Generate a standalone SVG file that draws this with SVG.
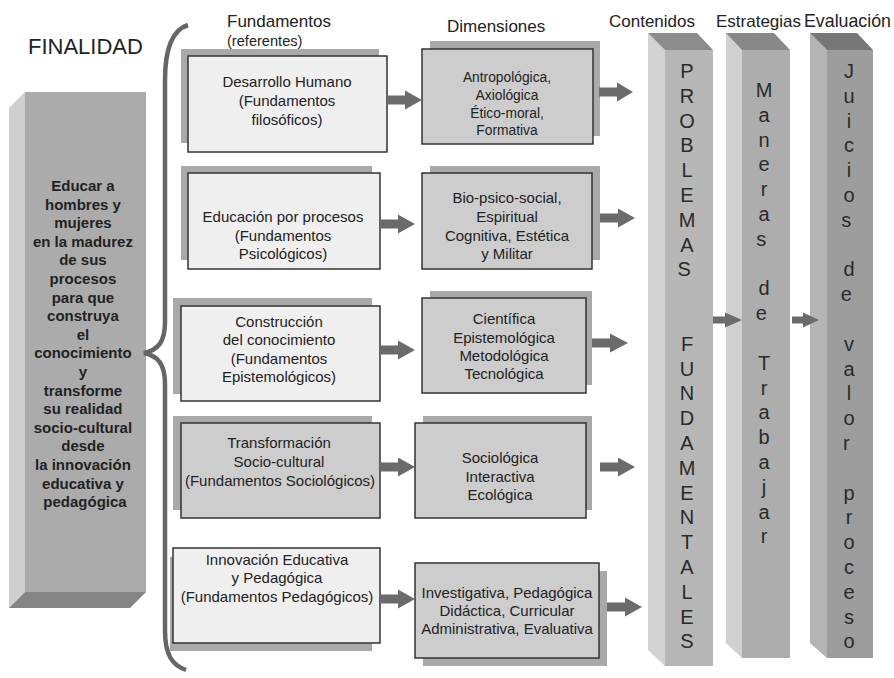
<svg xmlns="http://www.w3.org/2000/svg" width="894" height="678" viewBox="0 0 894 678">
<defs>
<style>
text{font-family:"Liberation Sans",Arial,sans-serif;fill:#222;}
.hd{font-size:17px;}
.bx{font-size:15px;text-anchor:middle;}
.dm{font-size:15px;text-anchor:middle;}
.fin{font-size:15px;font-weight:bold;text-anchor:middle;}
.col{font-size:20px;text-anchor:middle;fill:#2a2a2a;}
.sh{fill:#a9a9a9;}
.lt{fill:#efefef;stroke:#333;stroke-width:1.5;}
.gr{fill:#cdcdcd;stroke:#333;stroke-width:1.5;}
.ar{fill:#6b6b6b;}
</style>
</defs>
<rect width="894" height="678" fill="#fff"/>

<text x="28" y="54" style="font-size:22px">FINALIDAD</text>
<text x="227" y="27" class="hd">Fundamentos</text>
<text x="227" y="46" style="font-size:14.6px">(referentes)</text>
<text x="447" y="32" class="hd">Dimensiones</text>
<text x="609" y="27" class="hd">Contenidos</text>
<text x="716" y="27" class="hd">Estrategias</text>
<text x="804" y="27" style="font-size:17.8px">Evaluación</text>

<g id="finalidad">
<polygon points="9,108 25,92 25,592 9,608" fill="#cfcfcf"/>
<polygon points="25,592 146,592 130,608 9,608" fill="#858585"/>
<rect x="25" y="92" width="121" height="500" fill="#ababab"/>
<text class="fin">
<tspan x="85" y="191">Educar a</tspan>
<tspan x="85" dy="18.6">hombres y</tspan>
<tspan x="85" dy="18.6">mujeres</tspan>
<tspan x="85" dy="18.6">en la madurez</tspan>
<tspan x="85" dy="18.6">de sus</tspan>
<tspan x="85" dy="18.6">procesos</tspan>
<tspan x="85" dy="18.6">para que</tspan>
<tspan x="85" dy="18.6">construya</tspan>
<tspan x="85" dy="18.6">el</tspan>
<tspan x="85" dy="18.6">conocimiento</tspan>
<tspan x="85" dy="18.6">y</tspan>
<tspan x="85" dy="18.6">transforme</tspan>
<tspan x="85" dy="18.6">su realidad</tspan>
<tspan x="85" dy="18.6">socio-cultural</tspan>
<tspan x="85" dy="18.6">desde</tspan>
<tspan x="85" dy="18.6">la innovación</tspan>
<tspan x="85" dy="18.6">educativa y</tspan>
<tspan x="85" dy="18.6">pedagógica</tspan>
</text>
</g>

<g id="brace">
<path d="M188,25 C172,30 165,50 165,80 L165,322 C165,342 158,350 144,353 C158,356 165,364 165,384 L165,630 C165,655 172,665 186,670" fill="none" stroke="#666" stroke-width="4.5"/>
</g>

<g id="f1">
<rect x="181" y="49" width="198" height="94" class="sh"/>
<rect x="188" y="56" width="199" height="96" class="lt"/>
<text class="bx"><tspan x="287" y="87">Desarrollo Humano</tspan><tspan x="287" y="106">(Fundamentos</tspan><tspan x="287" y="125">filosóficos)</tspan></text>
</g>
<g id="f2">
<rect x="181" y="166" width="191" height="94" class="sh"/>
<rect x="188" y="173" width="192" height="96" class="lt"/>
<text class="bx"><tspan x="283" y="222">Educación por procesos</tspan><tspan x="283" y="241">(Fundamentos</tspan><tspan x="283" y="259">Psicológicos)</tspan></text>
</g>
<g id="f3">
<rect x="173" y="298" width="199" height="96" class="sh"/>
<rect x="181" y="306" width="199" height="95" class="lt"/>
<text class="bx"><tspan x="279" y="327">Construcción</tspan><tspan x="279" y="345">del conocimiento</tspan><tspan x="279" y="364">(Fundamentos</tspan><tspan x="279" y="382">Epistemológicos)</tspan></text>
</g>
<g id="f4">
<rect x="173" y="416" width="199" height="94" class="sh"/>
<rect x="181" y="423" width="199" height="95" class="gr"/>
<text class="bx"><tspan x="279" y="448">Transformación</tspan><tspan x="279" y="467">Socio-cultural</tspan><tspan x="280" y="486">(Fundamentos Sociológicos)</tspan></text>
</g>
<g id="f5">
<rect x="170" y="557" width="202" height="94" class="sh"/>
<rect x="173" y="548" width="207" height="95" class="lt"/>
<text class="bx"><tspan x="277" y="565">Innovación Educativa</tspan><tspan x="277" y="583">y Pedagógica</tspan><tspan x="277" y="602">(Fundamentos Pedagógicos)</tspan></text>
</g>

<g id="d1">
<rect x="430" y="41" width="170" height="95" class="sh"/>
<rect x="422" y="49" width="171" height="95" class="gr"/>
<text class="dm" style="font-size:13.8px"><tspan x="507" y="82">Antropológica,</tspan><tspan x="507" y="100">Axiológica</tspan><tspan x="507" y="117.5">Ético-moral,</tspan><tspan x="507" y="135">Formativa</tspan></text>
</g>
<g id="d2">
<rect x="430" y="166" width="170" height="94" class="sh"/>
<rect x="422" y="173" width="170" height="96" class="gr"/>
<text class="dm"><tspan x="507" y="203">Bio-psico-social,</tspan><tspan x="507" y="222">Espiritual</tspan><tspan x="507" y="241">Cognitiva, Estética</tspan><tspan x="507" y="259">y Militar</tspan></text>
</g>
<g id="d3">
<rect x="430" y="291" width="162" height="94" class="sh"/>
<rect x="422" y="298" width="164" height="95" class="gr"/>
<text class="dm"><tspan x="504" y="324">Científica</tspan><tspan x="504" y="343">Epistemológica</tspan><tspan x="504" y="361">Metodológica</tspan><tspan x="504" y="379">Tecnológica</tspan></text>
</g>
<g id="d4">
<rect x="423" y="416" width="169" height="94" class="sh"/>
<rect x="415" y="423" width="171" height="95" class="gr"/>
<text class="dm"><tspan x="500" y="463">Sociológica</tspan><tspan x="500" y="482">Interactiva</tspan><tspan x="500" y="500">Ecológica</tspan></text>
</g>
<g id="d5">
<rect x="423" y="571" width="184" height="95" class="sh"/>
<rect x="415" y="563" width="184" height="95" class="gr"/>
<text class="dm"><tspan x="507" y="598">Investigativa, Pedagógica</tspan><tspan x="507" y="616">Didáctica, Curricular</tspan><tspan x="507" y="634">Administrativa, Evaluativa</tspan></text>
</g>

<g id="contenidos">
<polygon points="648,33 665,50 665,666 648,650" fill="#d3d3d3"/>
<polygon points="648,33 697,33 713,50 665,50" fill="#8c8c8c"/>
<rect x="665" y="50" width="48" height="616" fill="#b7b7b7"/>
<text class="col">
<tspan x="687" y="78">P</tspan><tspan x="687" dy="24.8">R</tspan><tspan x="687" dy="24.8">O</tspan><tspan x="687" dy="24.8">B</tspan><tspan x="687" dy="24.8">L</tspan><tspan x="687" dy="24.8">E</tspan><tspan x="687" dy="24.8">M</tspan><tspan x="687" dy="24.8">A</tspan><tspan x="687" dy="24.8">S</tspan>
<tspan x="687" dy="74.4">F</tspan><tspan x="687" dy="24.8">U</tspan><tspan x="687" dy="24.8">N</tspan><tspan x="687" dy="24.8">D</tspan><tspan x="687" dy="24.8">A</tspan><tspan x="687" dy="24.8">M</tspan><tspan x="687" dy="24.8">E</tspan><tspan x="687" dy="24.8">N</tspan><tspan x="687" dy="24.8">T</tspan><tspan x="687" dy="24.8">A</tspan><tspan x="687" dy="24.8">L</tspan><tspan x="687" dy="24.8">E</tspan><tspan x="687" dy="24.8">S</tspan>
</text>
</g>
<g id="estrategias">
<polygon points="726,33 742,50 742,658 726,643" fill="#d0d0d0"/>
<polygon points="726,33 774,33 790,50 742,50" fill="#888"/>
<rect x="742" y="50" width="48" height="608" fill="#adadad"/>
<text class="col">
<tspan x="764" y="97">M</tspan><tspan x="764" dy="24.8">a</tspan><tspan x="764" dy="24.8">n</tspan><tspan x="764" dy="24.8">e</tspan><tspan x="764" dy="24.8">r</tspan><tspan x="764" dy="24.8">a</tspan><tspan x="764" dy="24.8">s</tspan>
<tspan x="764" dy="49.6">d</tspan><tspan x="764" dy="24.8">e</tspan>
<tspan x="764" dy="49.6">T</tspan><tspan x="764" dy="24.8">r</tspan><tspan x="764" dy="24.8">a</tspan><tspan x="764" dy="24.8">b</tspan><tspan x="764" dy="24.8">a</tspan><tspan x="764" dy="24.8">j</tspan><tspan x="764" dy="24.8">a</tspan><tspan x="764" dy="24.8">r</tspan>
</text>
</g>
<g id="evaluacion">
<polygon points="810,33 827,50 827,658 810,643" fill="#b4b4b4"/>
<polygon points="810,33 857,33 873,50 827,50" fill="#777"/>
<rect x="827" y="50" width="46" height="608" fill="#9d9d9d"/>
<text class="col">
<tspan x="849" y="78">J</tspan><tspan x="849" dy="24.8">u</tspan><tspan x="849" dy="24.8">i</tspan><tspan x="849" dy="24.8">c</tspan><tspan x="849" dy="24.8">i</tspan><tspan x="849" dy="24.8">o</tspan><tspan x="849" dy="24.8">s</tspan>
<tspan x="849" dy="49.6">d</tspan><tspan x="849" dy="24.8">e</tspan>
<tspan x="849" dy="49.6">v</tspan><tspan x="849" dy="24.8">a</tspan><tspan x="849" dy="24.8">l</tspan><tspan x="849" dy="24.8">o</tspan><tspan x="849" dy="24.8">r</tspan>
<tspan x="849" dy="49.6">p</tspan><tspan x="849" dy="24.8">r</tspan><tspan x="849" dy="24.8">o</tspan><tspan x="849" dy="24.8">c</tspan><tspan x="849" dy="24.8">e</tspan><tspan x="849" dy="24.8">s</tspan><tspan x="849" dy="24.8">o</tspan>
</text>
</g>

<g id="connectors" class="ar">
<path d="M387,95.5H405V90.5L422,100L405,109.5V104.5H387Z"/>
<path d="M599,87.5H617V82.5L633,92L617,101.5V96.5H599Z"/>
<path d="M380,219.5H398V214.5L415,224L398,233.5V228.5H380Z"/>
<path d="M600,213.5H618V208.5L635,218L618,227.5V222.5H600Z"/>
<path d="M380,345.5H398V340.5L415,350L398,359.5V354.5H380Z"/>
<path d="M592,338.5H610V333.5L628,343L610,352.5V347.5H592Z"/>
<path d="M380,462.5H398V457.5L415,467L398,476.5V471.5H380Z"/>
<path d="M600,462.5H618V457.5L635,467L618,476.5V471.5H600Z"/>
<path d="M380,594.5H398V589.5L415,599L398,608.5V603.5H380Z"/>
<path d="M607,602.5H625V597.5L642,607L625,616.5V611.5H607Z"/>
<path d="M713,316.5H725V312.5L742,320L725,327.5V323.5H713Z"/>
<path d="M792,316.5H803V312.5L819,320L803,327.5V323.5H792Z"/>
</g>
</svg>
